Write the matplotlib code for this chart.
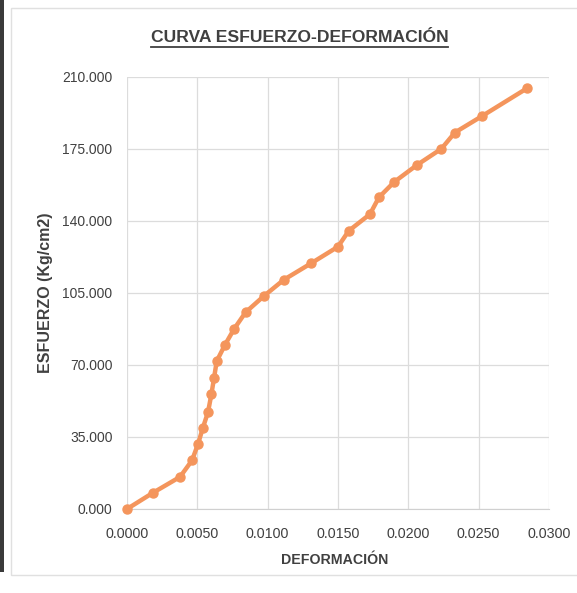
import matplotlib
matplotlib.use("Agg")
import matplotlib.pyplot as plt
from matplotlib.ticker import FuncFormatter
from matplotlib.patches import Rectangle
from matplotlib.lines import Line2D

deformacion = [0.0000, 0.00185, 0.00377, 0.00462, 0.00505, 0.00539, 0.00576,
               0.00600, 0.00619, 0.00638, 0.00695, 0.00762, 0.00843, 0.00971,
               0.01114, 0.01308, 0.01500, 0.01576, 0.01727, 0.01791, 0.01900,
               0.02063, 0.02235, 0.02331, 0.02524, 0.02846]
esfuerzo = [0.0, 7.9, 15.6, 23.6, 31.6, 39.4, 47.1, 55.8, 63.8, 71.9, 79.6,
            87.6, 95.6, 103.4, 111.4, 119.4, 127.5, 135.2, 143.3, 151.5,
            159.0, 167.3, 175.1, 183.0, 191.0, 204.6]

x_ticks = [0.0, 0.005, 0.010, 0.015, 0.020, 0.025, 0.030]
y_ticks = [0, 35, 70, 105, 140, 175, 210]

title = "CURVA ESFUERZO-DEFORMACIÓN"
x_label = "DEFORMACIÓN"
y_label = "ESFUERZO (Kg/cm2)"

plt.rcParams['font.family'] = ['Liberation Sans', 'DejaVu Sans']

W, H = 577, 593
TXT = "#404040"
fig = plt.figure(figsize=(W / 100, H / 100), dpi=100)
fig.patch.set_facecolor("white")

# scanned page edge and chart frame
fig.patches.append(Rectangle((0, 21 / H), 4 / W, 1 - 21 / H, transform=fig.transFigure,
                             facecolor="#3a3a3a", edgecolor="none"))
fig.patches.append(Rectangle((11 / W, 18 / H), 1.0, 1 - 26 / H, transform=fig.transFigure,
                             facecolor="none", edgecolor="#e0e0e0", linewidth=1))

ax = fig.add_axes([127 / W, (H - 509) / H, (549 - 127) / W, (509 - 77) / H])
ax.set_xlim(0, 0.030)
ax.set_ylim(0, 210)
ax.set_xticks(x_ticks)
ax.set_yticks(y_ticks)
ax.xaxis.set_major_formatter(FuncFormatter(lambda v, p: f"{v:.4f}"))
ax.yaxis.set_major_formatter(FuncFormatter(lambda v, p: f"{v:.3f}"))
ax.grid(True, color="#dcdcdc", linewidth=0.9)
ax.set_axisbelow(True)
for side in ["top", "right", "left"]:
    ax.spines[side].set_visible(False)
ax.spines["bottom"].set_color("#d0d0d0")
ax.tick_params(axis="y", length=0, labelsize=10, labelcolor=TXT, pad=10.5)
ax.tick_params(axis="x", length=0, labelsize=10.3, labelcolor=TXT, pad=13)

ax.plot(deformacion, esfuerzo, color="#F4955C", linewidth=3.2, marker="o",
        markersize=6.5, markerfacecolor="#F4955C", markeredgecolor="#F4955C",
        clip_on=False, zorder=3)

ax.set_xlabel(x_label, fontsize=10.2, fontweight="bold", color=TXT)
ax.set_ylabel(y_label, fontsize=11.5, fontweight="bold", color=TXT)
ax.xaxis.set_label_coords((335 - 127) / (549 - 127), -(560 - 509) / (509 - 77))
ax.yaxis.set_label_coords(-(127 - 45.5) / (549 - 127), (509 - 293) / (509 - 77))
ax.xaxis.label.set_va("center")
ax.yaxis.label.set_va("center")

t = fig.text(299.5 / W, 1 - 37 / H, title, ha="center", va="center",
             fontsize=12.6, fontweight="bold", color=TXT)
fig.canvas.draw()
bb = t.get_window_extent().transformed(fig.transFigure.inverted())
fig.lines.append(Line2D([bb.x0, bb.x1], [bb.y0 - 2 / H, bb.y0 - 2 / H],
                        transform=fig.transFigure, color=TXT, linewidth=1.3))

fig.savefig("out.png", dpi=100)
